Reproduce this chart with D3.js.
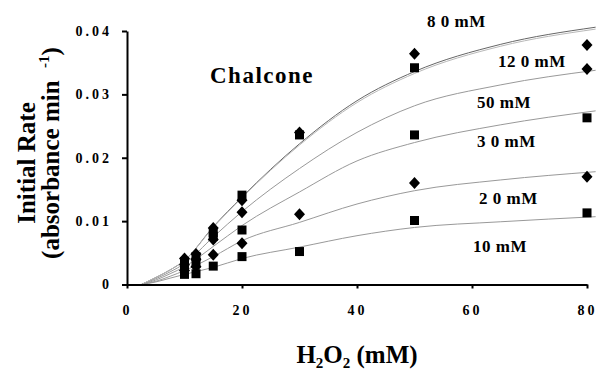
<!DOCTYPE html>
<html>
<head>
<meta charset="utf-8">
<script src="https://d3js.org/d3.v7.min.js"></script>
<style>
  body { margin: 0; background: #fff; }
  text { font-family: "Liberation Serif", "Times New Roman", serif; font-weight: bold; fill: #000; }
  .tick text { font-size: 14px; letter-spacing: 3px; }
  .curve { fill: none; stroke-width: 1; }
</style>
</head>
<body>
<div id="chart"></div>
<script>
// Data
var xTicks = [0, 20, 40, 60, 80];
var yTicks = [0, 0.01, 0.02, 0.03, 0.04];

// H2O2 concentrations of the measured points (mM)
var concX = [10, 12, 15, 20, 30, 50, 80];
var rate10 = [0.0016, 0.0017, 0.0029, 0.0044, 0.0052, 0.0101, 0.0113];
var rate20 = [0.0022, 0.0028, 0.0047, 0.0065, 0.0111, 0.0160, 0.0170];
var rate30 = [0.0027, 0.0034, 0.0076, 0.0086, null, 0.0236, 0.0263];
var rate50 = [0.0031, 0.0040, 0.0071, 0.0114, null, null, 0.0340];
var rate80 = [0.0036, 0.0044, 0.0082, 0.0141, 0.0236, 0.0342, null];
var rate120 = [0.0041, 0.0048, 0.0089, 0.0133, 0.0240, 0.0364, 0.0378];

// fitted curves
var curveX = [2.5, 5, 7.5, 10, 15, 20, 30, 40, 50, 65, 81.5];
var fit10 = [0, 0.0004, 0.0010, 0.0016, 0.0027, 0.0041, 0.0059, 0.0077, 0.0090, 0.0099, 0.0107];
var fit20 = [0, 0.0005, 0.0013, 0.0022, 0.0044, 0.0069, 0.0098, 0.0127, 0.0148, 0.0165, 0.0178];
var fit30 = [0, 0.0007, 0.0017, 0.0028, 0.0060, 0.0093, 0.0146, 0.0195, 0.0224, 0.0252, 0.0274];
var fit50 = [0, 0.0009, 0.0020, 0.0033, 0.0075, 0.0115, 0.0183, 0.0240, 0.0282, 0.0315, 0.0338];
var fit80 = [0, 0.0011, 0.0023, 0.0038, 0.0091, 0.0138, 0.0222, 0.0290, 0.0336, 0.0379, 0.0406];
var fit120 = [0, 0.0011, 0.0023, 0.0038, 0.0090, 0.0137, 0.0220, 0.0287, 0.0333, 0.0376, 0.0403];

var seriesLabels = ["10 mM", "2 0 mM", "3 0 mM", "50 mM", "8 0 mM", "12 0 mM"];
var seriesRates = [rate10, rate20, rate30, rate50, rate80, rate120];
var seriesFits = [fit10, fit20, fit30, fit50, fit80, fit120];
var seriesMarker = ["square", "diamond", "square", "diamond", "square", "diamond"];

var svgWidth = 597;
var svgHeight = 371;

var margin = { top: 31, right: 10, bottom: 86.5, left: 127 };
var width = 460;
var height = svgHeight - margin.top - margin.bottom;

var svg = d3.select("#chart")
  .append("svg")
  .attr("width", svgWidth)
  .attr("height", svgHeight);

var chartGroup = svg.append("g")
  .attr("transform", `translate(${margin.left}, ${margin.top})`);

// Scales
var xScale = d3.scaleLinear().domain([0, 80]).range([0, width]);
var yScale = d3.scaleLinear().domain([0, 0.04]).range([height, 0]);

// Fitted lines
var line = d3.line()
  .x(d => xScale(d[0]))
  .y(d => yScale(d[1]))
  .curve(d3.curveMonotoneX);

var lineColors = ["#999", "#999", "#999", "#999", "#666", "#b8b8b8"];
seriesFits.forEach(function(fit, i) {
  chartGroup.append("path")
    .attr("class", "curve")
    .attr("stroke", lineColors[i])
    .attr("d", line(curveX.map((x, j) => [x, fit[j]])));
});

// Axes
var bottomAxis = d3.axisBottom(xScale)
  .tickValues(xTicks)
  .tickSize(4)
  .tickSizeOuter(0)
  .tickPadding(17)
  .tickFormat(d3.format("d"));
var leftAxis = d3.axisLeft(yScale)
  .tickValues(yTicks)
  .tickSize(5)
  .tickSizeOuter(0)
  .tickPadding(10)
  .tickFormat(d => d === 0 ? "0" : d.toFixed(2));

var xAxisG = chartGroup.append("g")
  .attr("transform", `translate(0, ${height})`)
  .call(bottomAxis);
var yAxisG = chartGroup.append("g")
  .call(leftAxis);

[xAxisG, yAxisG].forEach(function(g) {
  g.select(".domain").attr("stroke", "#000").attr("stroke-width", 2);
  g.selectAll(".tick line").attr("stroke", "#000").attr("stroke-width", 2);
  g.selectAll(".tick text").attr("font-family", null).attr("font-size", null);
});

// Markers
var diamond = {
  draw: function(context, size) {
    var w = 5.5, h = 6;
    context.moveTo(0, -h);
    context.lineTo(w, 0);
    context.lineTo(0, h);
    context.lineTo(-w, 0);
    context.closePath();
  }
};
var squareSym = {
  draw: function(context, size) {
    context.rect(-4.5, -4.5, 9, 9);
  }
};

var points = [];
seriesRates.forEach(function(rates, i) {
  rates.forEach(function(r, j) {
    if (r !== null) points.push({ x: concX[j], y: r, marker: seriesMarker[i] });
  });
});

chartGroup.selectAll(".pt")
  .data(points)
  .enter()
  .append("path")
  .attr("class", "pt")
  .attr("transform", d => `translate(${xScale(d.x)}, ${yScale(d.y)})`)
  .attr("d", d => d3.symbol().type(d.marker === "square" ? squareSym : diamond)())
  .attr("fill", "#000");

// Series labels
var labelPos = [[473, 252], [479, 204], [477, 147], [477, 108], [427, 27], [498, 67]];
seriesLabels.forEach(function(lab, i) {
  svg.append("text")
    .attr("x", labelPos[i][0])
    .attr("y", labelPos[i][1])
    .attr("font-size", 17)
    .style("white-space", "pre")
    .style("letter-spacing", "0.5px")
    .text(lab);
});

// Title inside plot
svg.append("text")
  .attr("x", 210)
  .attr("y", 83)
  .attr("font-size", 23)
  .style("letter-spacing", "1.5px")
  .text("Chalcone");

// Axis labels
svg.append("text")
  .attr("transform", "translate(35, 163) rotate(-90)")
  .attr("text-anchor", "middle")
  .attr("font-size", 25)
  .text("Initial Rate");

var yLab2 = svg.append("text")
  .attr("transform", "translate(59, 153) rotate(-90)")
  .attr("text-anchor", "middle")
  .attr("font-size", 25)
  .style("white-space", "pre");
yLab2.append("tspan").text("(absorbance min  ");
yLab2.append("tspan").attr("font-size", 15).attr("dy", -10).text("-1");
yLab2.append("tspan").attr("dy", 10).text(")");

var xLab = svg.append("text")
  .attr("x", 357)
  .attr("y", 363)
  .attr("text-anchor", "middle")
  .attr("font-size", 25);
xLab.append("tspan").text("H");
xLab.append("tspan").attr("font-size", 15).attr("dy", 5).text("2");
xLab.append("tspan").attr("dy", -5).text("O");
xLab.append("tspan").attr("font-size", 15).attr("dy", 5).text("2");
xLab.append("tspan").attr("dy", -5).text(" (mM)");
</script>
</body>
</html>
